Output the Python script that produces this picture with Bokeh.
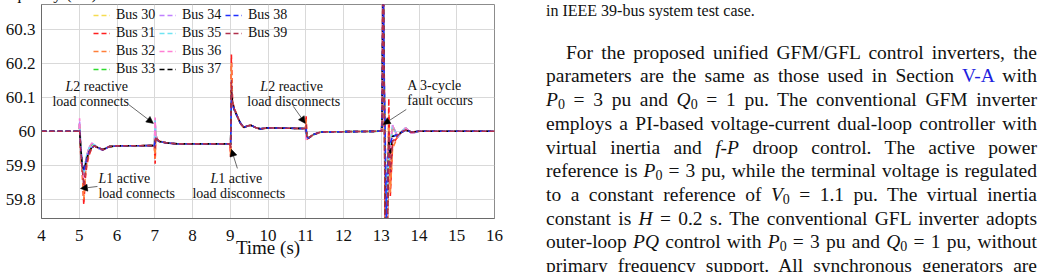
import re
from bokeh.plotting import figure
from bokeh.models import (Range1d, Legend, LegendItem, Label, Arrow, NormalHead,
                          ColumnDataSource, FixedTicker, Div)
from bokeh.layouts import row
from bokeh.embed import file_html
from bokeh.resources import INLINE

SERIF = "Liberation Serif"

# ---------------- data ----------------
TIME = [4.0, 4.99, 5.01, 5.04, 5.08, 5.12, 5.16, 5.2, 5.26, 5.33,
        5.4, 5.5, 5.62, 5.8, 6.0, 6.99, 7.01, 7.03, 7.06, 7.12,
        7.3, 7.6, 8.99, 9.01, 9.03, 9.06, 9.1, 9.18, 9.27, 9.36,
        9.54, 9.67, 9.8, 9.98, 10.99, 11.01, 11.03, 11.07, 11.2, 11.4,
        12.99, 13.02, 13.05, 13.08, 13.11, 13.14, 13.17, 13.2, 13.24, 13.3,
        13.44, 13.55, 13.65, 13.8, 14.0, 16.0]

BUS_30 = [60.0, 60.0, 60.015, 59.95, 59.895, 59.875, 59.9, 59.925, 59.945, 59.955,
          59.958, 59.951, 59.946, 59.955, 59.957, 59.958, 59.99, 59.985, 59.976, 59.97,
          59.966, 59.963, 59.963, 59.955, 60.1, 60.085, 60.066, 60.045, 60.023, 60.012,
          60.018, 60.011, 60.007, 60.01, 60.008, 60.02, 59.985, 59.98, 59.99, 59.998,
          60.0, 60.02, 60.4, 60.15, 59.9, 59.68, 59.88, 59.93, 59.96, 60.01,
          59.985, 60.0, 60.008, 59.995, 60.0, 60.0]
BUS_31 = [60.0, 60.0, 60.01, 59.93, 59.88, 59.785, 59.86, 59.9, 59.93, 59.95,
          59.957, 59.953, 59.946, 59.955, 59.957, 59.958, 59.905, 59.99, 59.978, 59.971,
          59.966, 59.963, 59.963, 59.925, 60.225, 60.09, 60.07, 60.047, 60.022, 60.011,
          60.018, 60.011, 60.006, 60.01, 60.008, 60.045, 59.975, 59.98, 59.99, 59.998,
          60.0, 60.0, 60.6, 60.1, 59.6, 59.65, 59.75, 60.096, 59.81, 59.96,
          59.985, 59.998, 60.005, 59.997, 60.0, 60.0]
BUS_32 = [60.0, 60.0, 60.01, 59.935, 59.885, 59.8, 59.87, 59.905, 59.935, 59.952,
          59.957, 59.952, 59.946, 59.955, 59.957, 59.958, 59.92, 59.99, 59.977, 59.971,
          59.966, 59.963, 59.963, 59.93, 60.2, 60.085, 60.068, 60.046, 60.022, 60.011,
          60.018, 60.011, 60.006, 60.01, 60.008, 60.035, 59.978, 59.98, 59.99, 59.998,
          60.0, 60.0, 60.55, 60.12, 59.65, 59.66, 59.8, 60.05, 59.82, 59.95,
          59.985, 59.998, 60.005, 59.997, 60.0, 60.0]
BUS_33 = [60.0, 60.0, 60.025, 59.955, 59.9, 59.87, 59.905, 59.93, 59.95, 59.962,
          59.96, 59.95, 59.945, 59.955, 59.957, 59.958, 60.02, 59.985, 59.976, 59.97,
          59.966, 59.963, 59.963, 59.962, 60.1, 60.08, 60.064, 60.044, 60.023, 60.012,
          60.018, 60.011, 60.007, 60.01, 60.008, 59.995, 59.985, 59.98, 59.99, 59.998,
          60.0, 60.02, 60.42, 60.15, 59.9, 59.7, 59.88, 59.94, 59.955, 60.016,
          59.983, 60.0, 60.01, 59.994, 60.0, 60.0]
BUS_34 = [60.0, 60.0, 60.03, 59.955, 59.9, 59.87, 59.905, 59.93, 59.952, 59.965,
          59.96, 59.95, 59.944, 59.955, 59.957, 59.958, 60.03, 59.985, 59.976, 59.97,
          59.966, 59.963, 59.963, 59.962, 60.1, 60.08, 60.064, 60.044, 60.023, 60.012,
          60.018, 60.011, 60.007, 60.01, 60.008, 59.985, 59.98, 59.98, 59.99, 59.998,
          60.0, 60.03, 60.5, 60.16, 59.88, 59.7, 59.87, 59.93, 59.955, 60.018,
          59.982, 60.0, 60.011, 59.993, 60.0, 60.0]
BUS_35 = [60.0, 60.0, 60.02, 59.955, 59.9, 59.872, 59.905, 59.93, 59.95, 59.962,
          59.96, 59.95, 59.945, 59.955, 59.957, 59.958, 60.035, 59.985, 59.976, 59.97,
          59.966, 59.963, 59.963, 59.962, 60.11, 60.08, 60.064, 60.044, 60.023, 60.012,
          60.018, 60.011, 60.007, 60.01, 60.008, 59.99, 59.982, 59.98, 59.99, 59.998,
          60.0, 60.02, 60.45, 60.13, 59.9, 59.72, 59.86, 59.92, 59.955, 60.015,
          59.983, 60.0, 60.01, 59.994, 60.0, 60.0]
BUS_36 = [60.0, 60.0, 60.038, 59.955, 59.895, 59.86, 59.9, 59.928, 59.952, 59.965,
          59.96, 59.95, 59.944, 59.955, 59.957, 59.958, 60.04, 59.985, 59.976, 59.97,
          59.966, 59.963, 59.963, 59.96, 60.11, 60.08, 60.064, 60.044, 60.023, 60.012,
          60.018, 60.011, 60.007, 60.01, 60.008, 59.975, 59.978, 59.98, 59.99, 59.998,
          60.0, 60.03, 60.55, 60.16, 59.85, 59.68, 59.87, 59.93, 59.955, 60.017,
          59.983, 60.0, 60.01, 59.994, 60.0, 60.0]
BUS_37 = [60.0, 60.0, 60.0, 59.95, 59.9, 59.886, 59.9, 59.92, 59.94, 59.952,
          59.957, 59.952, 59.946, 59.955, 59.957, 59.958, 59.97, 59.98, 59.975, 59.97,
          59.966, 59.963, 59.963, 59.96, 60.12, 60.085, 60.066, 60.045, 60.024, 60.012,
          60.018, 60.011, 60.007, 60.01, 60.008, 60.005, 59.985, 59.98, 59.99, 59.998,
          60.0, 60.0, 60.5, 60.1, 59.7, 59.6, 59.8, 59.97, 59.93, 59.985,
          59.99, 59.998, 60.003, 59.998, 60.0, 60.0]
BUS_38 = [60.0, 60.0, 60.005, 59.95, 59.9, 59.886, 59.9, 59.92, 59.94, 59.952,
          59.957, 59.952, 59.946, 59.955, 59.957, 59.958, 59.975, 59.98, 59.975, 59.97,
          59.966, 59.963, 59.963, 59.96, 60.09, 60.08, 60.065, 60.045, 60.024, 60.012,
          60.018, 60.011, 60.007, 60.01, 60.008, 60.01, 59.985, 59.98, 59.99, 59.998,
          60.0, 60.01, 60.45, 60.14, 59.95, 59.7, 59.9, 59.95, 59.965, 59.985,
          59.99, 59.998, 60.003, 59.998, 60.0, 60.0]
BUS_39 = [60.0, 60.0, 60.005, 59.94, 59.89, 59.84, 59.88, 59.91, 59.935, 59.952,
          59.957, 59.952, 59.946, 59.955, 59.957, 59.958, 59.95, 59.985, 59.977, 59.971,
          59.966, 59.963, 59.963, 59.95, 60.15, 60.085, 60.067, 60.046, 60.023, 60.012,
          60.018, 60.011, 60.007, 60.01, 60.008, 60.02, 59.98, 59.98, 59.99, 59.998,
          60.0, 60.0, 60.55, 60.08, 59.62, 59.6, 59.78, 60.0, 59.88, 59.97,
          59.988, 59.998, 60.004, 59.997, 60.0, 60.0]

BUS_NAMES = ["Bus 30", "Bus 31", "Bus 32", "Bus 33", "Bus 34",
             "Bus 35", "Bus 36", "Bus 37", "Bus 38", "Bus 39"]
BUS_SERIES = [BUS_30, BUS_31, BUS_32, BUS_33, BUS_34,
              BUS_35, BUS_36, BUS_37, BUS_38, BUS_39]
BUS_COLORS = ["#f5dc50", "#ff1f1f", "#ff7f3a", "#2edc2e", "#c080ff",
              "#6fe4f2", "#ff7fd4", "#000000", "#1f2fff", "#b0304c"]

X_TICKS = list(range(4, 17))
Y_TICKS = [59.8, 59.9, 60.0, 60.1, 60.2, 60.3]
Y_TICK_LABELS = ["59.8", "59.9", "60", "60.1", "60.2", "60.3"]

# ---------------- chart ----------------
X0, X1 = 4.0, 16.0
Y0, Y1 = 59.744, 60.372
CHART_W, TEXT_W, H = 520, 519, 272

p = figure(width=CHART_W, height=H, output_backend="svg", toolbar_location=None,
           x_range=Range1d(X0, X1), y_range=Range1d(Y0, Y1),
           min_border_left=41, min_border_right=26, min_border_top=4,
           min_border_bottom=54)
p.outline_line_color = "#8c8c8c"
p.outline_line_width = 1

renderers = []
for name, vals, col in zip(BUS_NAMES, BUS_SERIES, BUS_COLORS):
    src = ColumnDataSource(dict(t=TIME, f=vals))
    r = p.line("t", "f", source=src, line_color=col, line_width=1.6,
               line_dash="5 3")
    renderers.append(r)

p.xaxis.ticker = FixedTicker(ticks=X_TICKS)
p.yaxis.ticker = FixedTicker(ticks=Y_TICKS)
p.yaxis.major_label_overrides = {v: s for v, s in zip(Y_TICKS, Y_TICK_LABELS)}
for ax in (p.xaxis[0], p.yaxis[0]):
    ax.major_tick_in = 0
    ax.major_tick_out = 0
    ax.minor_tick_in = 0
    ax.minor_tick_out = 0
    ax.axis_line_color = "#6a6a6a"
    ax.major_label_text_font = SERIF
    ax.major_label_text_font_size = "17px"
    ax.major_label_text_color = "#111111"
p.xaxis.major_label_standoff = 11
p.yaxis.major_label_standoff = 6
p.xaxis.axis_label = "Time (s)"
p.xaxis.axis_label_text_font = SERIF
p.xaxis.axis_label_text_font_size = "19px"
p.xaxis.axis_label_text_font_style = "normal"
p.xaxis.axis_label_text_color = "#111111"
p.xaxis.axis_label_standoff = -7

p.xgrid.grid_line_color = "#d9d9d9"
p.ygrid.grid_line_color = "#d9d9d9"

legend = Legend(items=[LegendItem(label=n, renderers=[r]) for n, r in zip(BUS_NAMES, renderers)],
                location=(52, 141), orientation="vertical", nrows=4,
                glyph_width=17, glyph_height=14, label_height=14, label_width=41,
                label_standoff=6, spacing=2, padding=0, margin=0,
                border_line_color=None, background_fill_alpha=0,
                label_text_font=SERIF, label_text_font_size="14px",
                label_text_color="#111111")
p.add_layout(legend)

# annotations: (x, y, italic prefix, rest)
ANNOTATIONS = [
    (4.635, 60.1314, "L", "2 reactive"),
    (4.291, 60.0873, "", "load  connects"),
    (9.797, 60.1314, "L", "2 reactive"),
    (9.453, 60.0873, "", "load  disconnects"),
    (13.689, 60.134, "", "A 3-cycle"),
    (13.689, 60.090, "", "fault occurs"),
    (5.509, 59.861, "L", "1 active"),
    (5.509, 59.817, "", "load connects"),
    (8.474, 59.861, "L", "1 active"),
    (7.997, 59.817, "", "load disconnects"),
]
for x, y, ital, rest in ANNOTATIONS:
    off = 0
    if ital:
        p.add_layout(Label(x=x, y=y, text=ital, text_font=SERIF, text_font_size="14px",
                           text_font_style="italic", text_baseline="middle",
                           text_align="left", text_color="#111111"))
        off = 7.8
    p.add_layout(Label(x=x, y=y, x_offset=off, text=rest, text_font=SERIF,
                       text_font_size="14px", text_baseline="middle",
                       text_align="left", text_color="#111111"))

ARROWS = [
    (6.303, 60.079, 6.965, 60.023),
    (10.671, 60.073, 10.989, 60.023),
    (13.663, 60.064, 13.054, 60.020),
    (5.482, 59.838, 5.032, 59.832),
    (9.189, 59.891, 9.030, 59.947),
]
for xs, ys, xe, ye in ARROWS:
    p.add_layout(Arrow(end=NormalHead(size=7, fill_color="black", line_color="black",
                                      line_width=0.5),
                       x_start=xs, y_start=ys, x_end=xe, y_end=ye,
                       line_color="#444444", line_width=0.8))

# ---------------- paper text beside the chart (HTML) ----------------
AXIS_TITLE = "Frequency (Hz)"
CAPTION_TAIL = "in IEEE 39-bus system test case."
BODY_LINES = [
    "For the proposed unified GFM/GFL control inverters, the",
    "parameters are the same as those used in Section {V-A} with",
    "*P*_0 = 3 pu and *Q*_0 = 1 pu. The conventional GFM inverter",
    "employs a PI-based voltage-current dual-loop controller with",
    "virtual inertia and *f*-*P* droop control. The active power",
    "reference is *P*_0 = 3 pu, while the terminal voltage is regulated",
    "to a constant reference of *V*_0 = 1.1 pu. The virtual inertia",
    "constant is *H* = 0.2 s. The conventional GFL inverter adopts",
    "outer-loop *PQ* control with *P*_0 = 3 pu and *Q*_0 = 1 pu, without",
    "primary frequency support. All synchronous generators are",
]

BODY_SIZE, SUB_SIZE, CAP_SIZE, TITLE_SIZE = 19.5, 14, 16, 17
ASC = 0.8375            # baseline offset (em) inside a line box of line-height 1
TEXT_LEFT, TEXT_INDENT, TEXT_RIGHT = 541, 561, 1032   # page pixels
FIRST_BASELINE, LEADING = 54.0, 23.7
CAP_BASELINE, TITLE_BASELINE, TITLE_LEFT = 11.5, -5.5, -15


def to_html(line):
    def repl(m):
        if m.group(1):
            return "<i>%s</i>" % m.group(1)
        if m.group(2):
            return ('<span style="font-size:%spx;position:relative;top:3px">%s</span>'
                    % (SUB_SIZE, m.group(2)))
        if m.group(3):
            return '<span style="color:#1f1fe0">%s</span>' % m.group(3)
        return m.group(4)
    return re.sub(r"\*([^*]+)\*|_(\w)|\{([^}]+)\}|([^*_{]+)", repl, line)


def block(left, baseline, size, width, inner, justify):
    top = baseline - ASC * size
    just = ("text-align:justify;text-align-last:justify;" if justify
            else "text-align:left;white-space:nowrap;")
    w = "width:%.1fpx;" % width if width else ""
    return ('<div style="position:absolute;left:%.1fpx;top:%.1fpx;%sfont-size:%spx;'
            'line-height:%spx;%s">%s</div>'
            % (left - CHART_W, top, w, size, size, just, inner))


parts = [block(TITLE_LEFT, TITLE_BASELINE, TITLE_SIZE, None, AXIS_TITLE, False),
         block(TEXT_LEFT, CAP_BASELINE, CAP_SIZE, None, CAPTION_TAIL, False)]
for i, line in enumerate(BODY_LINES):
    left = TEXT_INDENT if i == 0 else TEXT_LEFT
    parts.append(block(left, FIRST_BASELINE + i * LEADING, BODY_SIZE,
                       TEXT_RIGHT - left, to_html(line), True))

html = ('<div style="position:relative;width:%dpx;height:%dpx;overflow:visible;'
        "font-family:'%s';color:#111111;\">%s</div>" % (TEXT_W, H, SERIF, "".join(parts)))

div = Div(text=html, width=TEXT_W, height=H, styles={"overflow": "visible"})

layout = row(p, div)
open("out.html", "w").write(file_html(layout, INLINE))
